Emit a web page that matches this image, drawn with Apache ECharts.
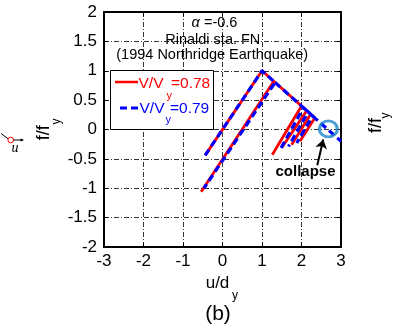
<!DOCTYPE html>
<html>
<head>
<meta charset="utf-8">
<script src="https://cdn.jsdelivr.net/npm/echarts@6/dist/echarts.min.js"></script>
<style>html,body{margin:0;padding:0;background:#fff}#c{width:394px;height:334px}</style>
</head>
<body>
<div id="c"></div>
<script>
// ---- data ----
var xTicks = [-3, -2, -1, 0, 1, 2, 3];
var yTicks = [-2, -1.5, -1, -0.5, 0, 0.5, 1, 1.5, 2];
// red (V/Vy = 0.78) path segments [u/dy, f/fy]
var redSeg1 = [[-0.44, -0.44], [1, 1], [1.3, 0.82], [-0.54, -1.06]];
var redSeg2 = [[1.3, 0.82], [2.0, 0.4], [1.26, -0.43]];
var redSeg3 = [[2.0, 0.4], [2.13, 0.32], [1.5, -0.31]];
var redSeg4 = [[2.13, 0.32], [2.23, 0.26], [1.75, -0.26]];
var redSeg5 = [[2.23, 0.26], [2.34, 0.2], [1.96, -0.2]];
// blue (V/Vy = 0.79) path segments
var blueSeg1 = [[-0.44, -0.44], [1, 1], [1.33, 0.8], [-0.47, -1.0]];
var blueSeg2 = [[1.33, 0.8], [2.05, 0.37], [1.46, -0.34]];
var blueSeg3 = [[2.05, 0.37], [2.17, 0.3], [1.67, -0.29]];
var blueSeg4 = [[2.17, 0.3], [2.28, 0.23], [1.88, -0.23]];
var blueSeg5 = [[2.28, 0.23], [3.0, -0.2]];
// collapse marker & arrow
var collapsePoint = [2.68, 0.01];
var arrowFrom = [2.40, -0.61];
var arrowTo = [2.55, -0.17];

var redSegs = [redSeg1, redSeg2, redSeg3, redSeg4, redSeg5];
var blueSegs = [blueSeg1, blueSeg2, blueSeg3, blueSeg4, blueSeg5];

var FONT = 'Arial, "Liberation Sans", sans-serif';
var series = [];
redSegs.forEach(function (s) {
  series.push({type: 'line', data: s, symbol: 'none', silent: true, z: 3,
    lineStyle: {color: '#ff0000', width: 2.8, type: 'solid'}});
});
blueSegs.forEach(function (s) {
  series.push({type: 'line', data: s, symbol: 'none', silent: true, z: 4,
    lineStyle: {color: '#0000ff', width: 3.2, type: [7, 4]}});
});
series.push({type: 'scatter', data: [collapsePoint], symbol: 'circle', symbolSize: [18, 16], z: 6, silent: true,
  itemStyle: {color: 'rgba(0,0,0,0)', borderColor: '#1b86c9', borderWidth: 3}});
series.push({type: 'line', data: [], z: 6, silent: true,
  markLine: {silent: true, symbol: ['none', 'arrow'], symbolSize: 9, label: {show: false},
    lineStyle: {color: '#000', width: 2, type: 'solid'},
    data: [[{coord: arrowFrom}, {coord: arrowTo}]]}});

var chart = echarts.init(document.getElementById('c'), null, {renderer: 'canvas'});
var axisCommon = {
  type: 'value',
  axisLine: {show: true, onZero: false, lineStyle: {color: '#000', width: 2}},
  axisTick: {show: true, inside: true, length: 4, lineStyle: {color: '#000', width: 1}},
};
function txt(text, x, y, font, color, align, extra) {
  var o = {type: 'text', x: x, y: y, z: 100,
    style: {text: text, font: font, fill: color || '#000', textAlign: align || 'center', textVerticalAlign: 'middle',
      align: align || 'center', verticalAlign: 'middle'}};
  if (extra) for (var k in extra) o[k] = extra[k];
  return o;
}
var graphics = [
  // legend box
  {type: 'rect', z: 99, shape: {x: 110.5, y: 70.5, width: 103, height: 59}, style: {fill: '#fff', stroke: '#000', lineWidth: 1}},
  {type: 'line', z: 100, shape: {x1: 115, y1: 82, x2: 138, y2: 82}, style: {stroke: '#ff0000', lineWidth: 2.5}},
  {type: 'line', z: 100, shape: {x1: 120, y1: 108, x2: 138, y2: 108}, style: {stroke: '#0000ff', lineWidth: 3, lineDash: [7, 4]}},
  txt('V/V', 138.5, 83.5, '15.5px ' + FONT, '#ff0000', 'left'),
  txt('y', 166.5, 96, '11px ' + FONT, '#ff0000', 'left'),
  txt('=0.78', 171, 83.5, '15.5px ' + FONT, '#ff0000', 'left'),
  txt('V/V', 139.5, 108.5, '15.5px ' + FONT, '#0000ff', 'left'),
  txt('y', 165.5, 120, '11px ' + FONT, '#0000ff', 'left'),
  txt('=0.79', 170, 108.5, '15.5px ' + FONT, '#0000ff', 'left'),
  // title texts inside plot
  {type: 'text', x: 214.5, y: 22.7, z: 100, style: {text: '{i|α} =-0.6', font: '14.5px ' + FONT, fill: '#000',
    textAlign: 'center', textVerticalAlign: 'middle', align: 'center', verticalAlign: 'middle',
    rich: {i: {fontStyle: 'italic', fontSize: 14.5, fontFamily: FONT}}}},
  txt('Rinaldi sta. FN', 212.8, 39.5, '14.5px ' + FONT),
  txt('(1994 Northridge Earthquake)', 212.2, 55, '14.5px ' + FONT),
  txt('collapse', 305.5, 172, 'bold 15px ' + FONT),
  // axis names
  txt('u/d', 217.5, 283.5, '17px ' + FONT),
  txt('y', 235, 296, '12px ' + FONT),
  txt('(b)', 218, 314, '21px ' + FONT),
  txt('f/f', 44.5, 132.7, '18px ' + FONT, '#000', 'center', {rotation: Math.PI / 2}),
  txt('y', 57, 121.5, '12px ' + FONT, '#000', 'center', {rotation: Math.PI / 2}),
  // neighbouring panel fragments
  txt('f/f', 376.5, 125.5, '18px ' + FONT, '#000', 'center', {rotation: Math.PI / 2}),
  txt('y', 386, 115.5, '12px ' + FONT, '#000', 'center', {rotation: Math.PI / 2}),
  {type: 'line', z: 100, shape: {x1: 1, y1: 133.5, x2: 8.5, y2: 139}, style: {stroke: '#000', lineWidth: 1}},
  {type: 'circle', z: 100, shape: {cx: 10.7, cy: 140, r: 2.8}, style: {fill: '#fff', stroke: '#ff0000', lineWidth: 1}},
  {type: 'line', z: 100, shape: {x1: 13.5, y1: 140, x2: 23, y2: 140}, style: {stroke: '#000', lineWidth: 1}},
  {type: 'polygon', z: 100, shape: {points: [[24, 140], [20.5, 138.5], [20.5, 141.5]]}, style: {fill: '#000'}},
  txt('u', 15, 148.5, 'italic 14px "Liberation Serif", "DejaVu Serif", serif')
];

chart.setOption({
  animation: false,
  backgroundColor: '#fff',
  grid: {left: 104, top: 12, width: 237, height: 235, containLabel: false},
  xAxis: [
    Object.assign({}, axisCommon, {min: -3, max: 3, interval: 1, position: 'bottom',
      axisLabel: {show: true, margin: 6, color: '#000', fontSize: 17, fontFamily: FONT,
        formatter: function (v) { return xTicks.indexOf(v) >= 0 ? String(v) : ''; }},
      splitLine: {show: true, lineStyle: {color: '#000', width: 0.8, type: [5, 2, 1, 2]}}}),
    Object.assign({}, axisCommon, {min: -3, max: 3, interval: 1, position: 'top',
      axisLabel: {show: false}, splitLine: {show: false}})
  ],
  yAxis: [
    Object.assign({}, axisCommon, {min: -2, max: 2, interval: 0.5, position: 'left',
      axisLabel: {show: true, margin: 7, color: '#000', fontSize: 17, fontFamily: FONT,
        formatter: function (v) { return yTicks.indexOf(v) >= 0 ? String(v) : ''; }},
      splitLine: {show: true, lineStyle: {color: '#000', width: 0.8, type: [5, 2, 1, 2]}}}),
    Object.assign({}, axisCommon, {min: -2, max: 2, interval: 0.5, position: 'right',
      axisLabel: {show: false}, splitLine: {show: false}})
  ],
  series: series,
  graphic: graphics
});
</script>
</body>
</html>
